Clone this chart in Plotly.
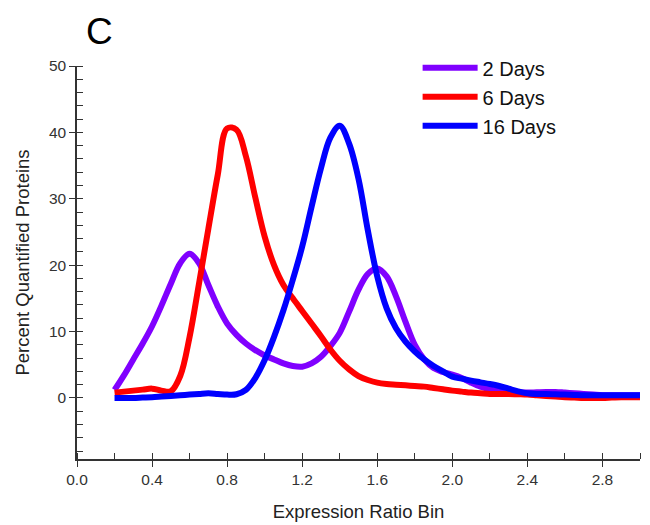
import plotly.graph_objects as go

ratio_bins = [0.2, 0.25, 0.3, 0.35, 0.4, 0.45, 0.5, 0.55, 0.6, 0.65, 0.7, 0.75, 0.8, 0.85,
              0.9, 0.95, 1.0, 1.05, 1.1, 1.15, 1.2, 1.25, 1.3, 1.35, 1.4, 1.45, 1.5, 1.55,
              1.6, 1.65, 1.7, 1.75, 1.8, 1.85, 1.9, 1.95, 2.0, 2.05, 2.1, 2.15, 2.2, 2.25,
              2.3, 2.35, 2.4, 2.45, 2.5, 2.55, 2.6, 2.65, 2.7, 2.75, 2.8, 2.85, 2.9, 2.95, 3.0]

days2 = [1.2, 3.4, 5.8, 8.2, 10.8, 13.9, 17.2, 20.3, 21.7, 20.3, 17.0, 13.8, 11.2, 9.5,
         8.2, 7.2, 6.4, 5.8, 5.2, 4.8, 4.7, 5.2, 6.2, 7.8, 9.8, 13.0, 16.3, 18.7,
         19.5, 18.3, 15.3, 11.5, 8.0, 5.8, 4.5, 3.9, 3.5, 3.0, 2.3, 1.7, 1.3, 1.0,
         0.9, 0.85, 0.8, 0.85, 0.9, 0.9, 0.8, 0.7, 0.6, 0.5, 0.4, 0.4, 0.4, 0.4, 0.4]
days6 = [0.8, 0.95, 1.1, 1.25, 1.4, 1.1, 1.0, 3.3, 9.2, 17.2, 25.5, 33.6, 40.6, 40.4,
         36.4, 30.2, 24.3, 20.0, 17.0, 15.0, 13.1, 11.2, 9.3, 7.3, 5.6, 4.3, 3.3, 2.7,
         2.3, 2.1, 2.0, 1.9, 1.8, 1.7, 1.5, 1.3, 1.1, 0.95, 0.8, 0.7, 0.6, 0.6,
         0.6, 0.55, 0.5, 0.4, 0.3, 0.2, 0.1, 0.05, 0.0, 0.0, 0.0, 0.05, 0.1, 0.1, 0.1]
days16 = [0.0, 0.0, 0.0, 0.05, 0.1, 0.2, 0.3, 0.4, 0.5, 0.6, 0.7, 0.6, 0.5, 0.55,
          1.2, 3.0, 5.7, 9.2, 13.2, 17.8, 22.8, 28.8, 34.6, 39.2, 41.0, 38.3, 33.0, 25.2,
          18.3, 13.5, 10.5, 8.5, 7.0, 5.8, 4.8, 4.0, 3.2, 2.9, 2.6, 2.35, 2.1, 1.8,
          1.4, 1.0, 0.7, 0.6, 0.6, 0.55, 0.5, 0.45, 0.4, 0.4, 0.4, 0.4, 0.4, 0.4, 0.4]

series_names = ["2 Days", "6 Days", "16 Days"]
series_values = [days2, days6, days16]
series_colors = ["#8000FF", "#FF0000", "#0000FF"]

x_ticks = [0.0, 0.4, 0.8, 1.2, 1.6, 2.0, 2.4, 2.8]
y_ticks = [0, 10, 20, 30, 40, 50]

FONT = "Arial, 'Liberation Sans', sans-serif"

fig = go.Figure()
for name, vals, col in zip(series_names, series_values, series_colors):
    fig.add_trace(go.Scatter(
        x=ratio_bins, y=vals, name=name, mode="lines",
        line=dict(color=col, width=6, shape="spline", smoothing=1.0),
    ))

axis_common = dict(
    showgrid=False, zeroline=False, showline=True, linecolor="#333333", linewidth=1.5,
    ticks="outside", ticklen=6, tickwidth=1.2, tickcolor="#333333",
    tickfont=dict(family=FONT, size=15.5, color="#333333"),
)

fig.update_xaxes(
    range=[0, 3.0], tickvals=x_ticks, ticktext=[f"{v:.1f}" for v in x_ticks],
    minor=dict(dtick=0.2, tick0=0, ticks="inside", ticklen=6, tickcolor="#333333", tickwidth=1.2),
    title=dict(text="Expression Ratio Bin", font=dict(family=FONT, size=18.5, color="#222222"), standoff=18),
    automargin=False,
    **axis_common,
)
fig.update_yaxes(
    range=[-9.2, 50], tickvals=y_ticks,
    minor=dict(dtick=2, tick0=0, ticks="inside", ticklen=6, tickcolor="#333333", tickwidth=1.2),
    title=dict(text="Percent Quantified Proteins", font=dict(family=FONT, size=18.5, color="#222222"), standoff=14),
    **axis_common,
)

fig.add_annotation(
    text="C", xref="paper", yref="paper", x=0.012, y=1.03, xanchor="left", yanchor="bottom",
    showarrow=False, font=dict(family=FONT, size=37, color="#000000"),
)

fig.update_layout(
    width=650, height=525,
    margin=dict(l=77, r=10, t=66, b=66),
    plot_bgcolor="white", paper_bgcolor="white",
    legend=dict(
        x=0.605, y=1.045, xanchor="left", yanchor="top",
        font=dict(family=FONT, size=20, color="#111111"),
        bgcolor="rgba(0,0,0,0)", itemwidth=55, tracegroupgap=0,
    ),
)

fig.write_html("out.html")
